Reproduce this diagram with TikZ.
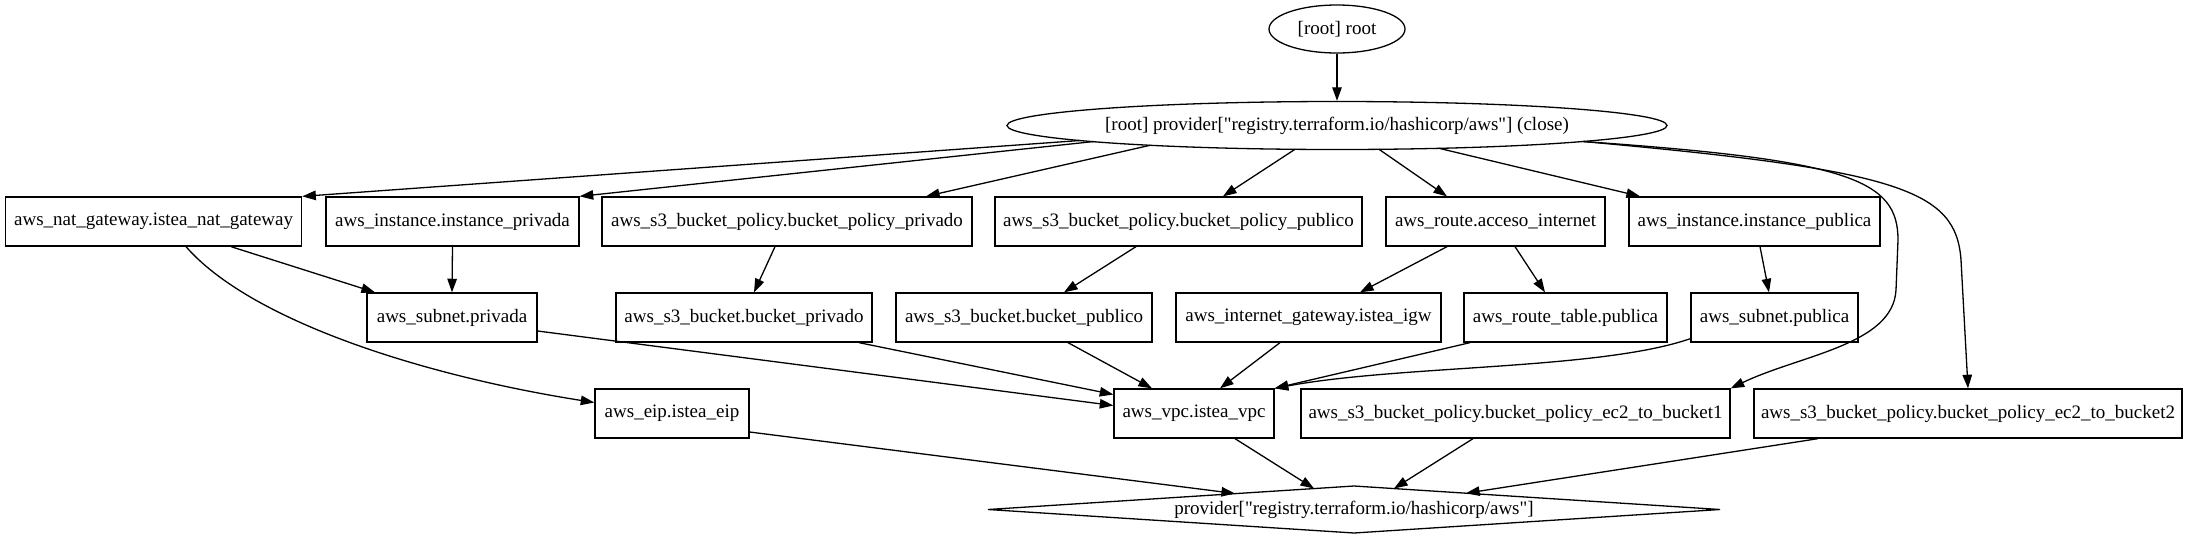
\documentclass[tikz,border=0pt]{standalone}
\usepackage{fontspec}
\setmainfont{Liberation Serif}[Ligatures=TeXOff]
\usetikzlibrary{arrows.meta,shapes.geometric,calc}
\tikzset{
  box/.style={draw, rectangle, inner sep=0pt, minimum height=49pt, font=\fontsize{19}{23}\selectfont},
  ell/.style={draw, ellipse, inner sep=0pt, font=\fontsize{19}{23}\selectfont},
  arr/.style={-{Triangle[length=13.6pt,width=9.5pt]}},
  every path/.style={line width=1.3pt},
}
\begin{document}
\begin{tikzpicture}[x=1pt,y=-1pt]
\useasboundingbox (0,0) rectangle (2188,539);
% ellipses
\node[ell, minimum width=136pt, minimum height=48pt] (root) at (1337,29) {[root] root};
\node[ell, minimum width=660pt, minimum height=48pt] (close) at (1337,125.5) {[root] provider["registry.terraform.io/hashicorp/aws"] (close)};
% row 1
\node[box, minimum width=296pt] (nat) at (153.6,221.5) {aws\_nat\_gateway.istea\_nat\_gateway};
\node[box, minimum width=253pt] (instpriv) at (452.5,221.5) {aws\_instance.instance\_privada};
\node[box, minimum width=370pt] (polpriv) at (787,221.5) {aws\_s3\_bucket\_policy.bucket\_policy\_privado};
\node[box, minimum width=367pt] (polpub) at (1178.5,221.5) {aws\_s3\_bucket\_policy.bucket\_policy\_publico};
\node[box, minimum width=219pt] (route) at (1495.5,221.5) {aws\_route.acceso\_internet};
\node[box, minimum width=251pt] (instpub) at (1754.5,221.5) {aws\_instance.instance\_publica};
% row 2
\node[box, minimum width=170pt] (subpriv) at (452,317.5) {aws\_subnet.privada};
\node[box, minimum width=256pt] (bucketpriv) at (744,317.5) {aws\_s3\_bucket.bucket\_privado};
\node[box, minimum width=256pt] (bucketpub) at (1024,317.5) {aws\_s3\_bucket.bucket\_publico};
\node[box, minimum width=265pt] (igw) at (1308.5,317.5) {aws\_internet\_gateway.istea\_igw};
\node[box, minimum width=203pt] (rtpub) at (1565.5,317.5) {aws\_route\_table.publica};
\node[box, minimum width=167pt] (subpub) at (1774.5,317.5) {aws\_subnet.publica};
% row 3
\node[box, minimum width=154pt] (eip) at (672,413.5) {aws\_eip.istea\_eip};
\node[box, minimum width=160pt] (vpc) at (1194,413.5) {aws\_vpc.istea\_vpc};
\node[box, minimum width=429pt] (ecb1) at (1515.5,413.5) {aws\_s3\_bucket\_policy.bucket\_policy\_ec2\_to\_bucket1};
\node[box, minimum width=428pt] (ecb2) at (1968,413.5) {aws\_s3\_bucket\_policy.bucket\_policy\_ec2\_to\_bucket2};
% diamond
\node[inner sep=0pt, font=\fontsize{19}{23}\selectfont] (prov) at (1354,509.5) {provider["registry.terraform.io/hashicorp/aws"]};
\draw ($(prov)+(-366,0)$) -- ($(prov)+(0,-23.5)$) -- ($(prov)+(366,0)$) -- ($(prov)+(0,23.5)$) -- cycle;
% edges
\draw[arr] (root) -- (close);
\draw[arr] ($(close)+(-257,15)$) -- (nat.north east);
\draw[arr] ($(close)+(-243,16)$) -- (instpriv.north east);
\draw[arr] ($(close)+(-187,19.8)$) -- ($(polpriv.north)+(139,0)$);
\draw[arr] ($(close)+(-42,23.8)$) -- ($(polpub.north)+(44.5,0)$);
\draw[arr] ($(close)+(42,23.8)$) -- ($(route.north)+(-48.5,0)$);
\draw[arr] ($(close)+(102,22.8)$) -- ($(instpub.north)+(-114.5,0)$);
\draw[arr] ($(close)+(246,16)$) .. controls (1850,160) and (1898,180) .. (1898,240) -- (1896,290) .. controls (1893,345) and (1800,355) .. (ecb1.north east);
\draw[arr] ($(close)+(246,16)$) .. controls (1900,170) and (1956,190) .. (1961,260) -- (ecb2.north);
\draw[arr] ($(nat.south)+(77.4,0)$) -- ($(subpriv.north)+(-77,0)$);
\draw[arr] ($(nat.south)+(32.4,0)$) .. controls (250,320) and (420,375) .. ($(eip.west)+(0,-11)$);
\draw[arr] (instpriv.south) -- (subpriv.north);
\draw[arr] ($(polpriv.south)+(-12,0)$) -- ($(bucketpriv.north)+(10,0)$);
\draw[arr] ($(polpub.south)+(-42.5,0)$) -- ($(bucketpub.north)+(40,0)$);
\draw[arr] ($(route.south)+(-48.5,0)$) -- ($(igw.north)+(51.5,0)$);
\draw[arr] ($(route.south)+(19.5,0)$) -- ($(rtpub.north)+(-20.5,0)$);
\draw[arr] ($(instpub.south)+(5.5,0)$) -- ($(subpub.north)+(-5.5,0)$);
\draw[arr] ($(subpriv.east)+(0,13.5)$) -- ($(vpc.west)+(0,-8)$);
\draw[arr] ($(bucketpriv.south)+(115,0)$) -- ($(vpc.west)+(0,-19)$);
\draw[arr] ($(bucketpub.south)+(44,0)$) -- ($(vpc.north)+(-42,0)$);
\draw[arr] ($(igw.south)+(-28.5,0)$) -- ($(vpc.north)+(26,0)$);
\draw[arr] ($(rtpub.south)+(-95.5,0)$) -- (vpc.north east);
\draw[arr] ($(subpub.south west)+(0,-4)$) .. controls (1600,370) and (1400,365) .. (vpc.north east);
\draw[arr] ($(eip.east)+(0,18.5)$) -- ($(prov)+(-119,-16)$);
\draw[arr] ($(vpc.south)+(41,0)$) -- ($(prov)+(-40,-21)$);
\draw[arr] ($(ecb1.south)+(-42.5,0)$) -- ($(prov)+(40,-21)$);
\draw[arr] ($(ecb2.south)+(-150,0)$) -- ($(prov)+(112,-16.3)$);
\end{tikzpicture}
\end{document}
